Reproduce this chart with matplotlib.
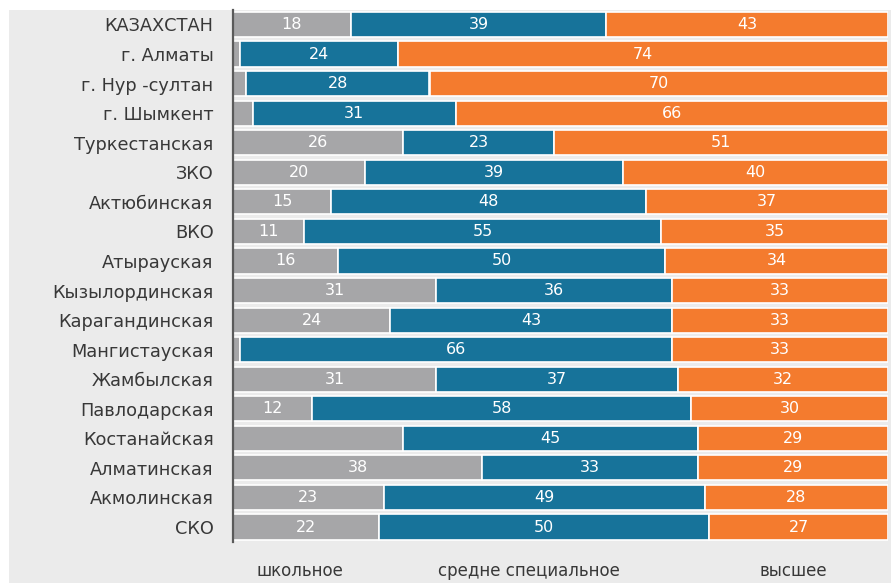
import matplotlib
matplotlib.use("Agg")
import matplotlib.pyplot as plt
from matplotlib.patches import Rectangle
import numpy as np

regions = ["КАЗАХСТАН", "г. Алматы", "г. Нур -султан", "г. Шымкент", "Туркестанская",
           "ЗКО", "Актюбинская", "ВКО", "Атырауская", "Кызылординская",
           "Карагандинская", "Мангистауская", "Жамбылская", "Павлодарская",
           "Костанайская", "Алматинская", "Акмолинская", "СКО"]
school = [18, 1, 2, 3, 26, 20, 15, 11, 16, 31, 24, 1, 31, 12, 26, 38, 23, 22]
vocational = [39, 24, 28, 31, 23, 39, 48, 55, 50, 36, 43, 66, 37, 58, 45, 33, 49, 50]
higher = [43, 74, 70, 66, 51, 40, 37, 35, 34, 33, 33, 33, 32, 30, 29, 29, 28, 27]
# school-level shares that carry no printed value
school_hidden = ["г. Алматы", "г. Нур -султан", "г. Шымкент", "Мангистауская", "Костанайская"]
series_names = ["школьное", "средне специальное", "высшее"]

colors = ["#a6a6a8", "#17739a", "#f47b2e"]
bg = "#ebebeb"

fig = plt.figure(figsize=(8.91, 5.83), dpi=100, facecolor="white")
fig.patches.append(Rectangle((9 / 891, 0), 1, 1 - 10 / 583, transform=fig.transFigure,
                             facecolor=bg, edgecolor="none", zorder=-10))
ax = fig.add_axes([233 / 891, 0.0707, (888 - 233) / 891, 0.9834 - 0.0707])
ax.set_facecolor(bg)

data = np.array([school, vocational, higher], dtype=float)
shares = data / data.sum(axis=0) * 100
y = np.arange(len(regions))
left = np.zeros(len(regions))
for k in range(3):
    bars = ax.barh(y, shares[k], left=left, height=0.85, color=colors[k],
                   edgecolor="white", linewidth=1.2)
    for i, b in enumerate(bars):
        if k == 0 and regions[i] in school_hidden:
            continue
        ax.text(left[i] + shares[k][i] / 2, y[i], f"{int(data[k][i])}",
                ha="center", va="center", color="white", fontsize=11.5)
    left += shares[k]

ax.set_xlim(0, 100)
ax.set_ylim(len(regions) - 0.5, -0.5)
ax.set_yticks(y)
ax.set_yticklabels(regions, fontsize=12.8, color="#383838")
ax.tick_params(axis="y", length=0, pad=14)
ax.set_xticks([])
for s in ["top", "right", "bottom"]:
    ax.spines[s].set_visible(False)
ax.spines["left"].set_color("#5a5a5a")
ax.spines["left"].set_linewidth(1.6)

for name, xpix in zip(series_names, [300, 529, 793]):
    fig.text(xpix / 891, 1 - 571 / 583, name, ha="center", va="center",
             fontsize=12, color="#383838")

fig.savefig("out.png", dpi=100, facecolor=fig.get_facecolor())
